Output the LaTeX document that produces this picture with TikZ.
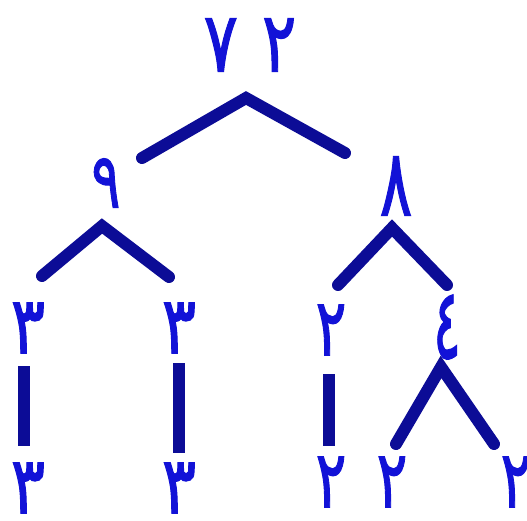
\documentclass[tikz,border=0pt]{standalone}
\usepackage{fontspec}
\newfontfamily\arabicfont[Script=Arabic,FakeBold=1.5]{DejaVu Sans}
\definecolor{linec}{RGB}{12,12,150}
\definecolor{digitc}{RGB}{18,18,215}
\newcommand\dsc[3]{\scalebox{#1}[#2]{#3}}
\begin{document}
\begin{tikzpicture}[x=1pt,y=-1pt,
  num/.style={text=digitc,font=\arabicfont\fontsize{64}{64}\selectfont,inner sep=0pt},
  br/.style={draw=linec,line width=12pt,line cap=round,line join=miter}]
\useasboundingbox (0,0) rectangle (527,521);
\fill[white] (0,0) rectangle (527,521);
% numbers
\node[num] (n72) at (250,45) {\dsc{1}{1.3}{٧\hspace{24pt}٢}};
\node[num] (n9) at (106,183) {\dsc{0.85}{1.2}{٩}};
\node[num] (n8) at (396,186) {\dsc{0.95}{1.45}{٨}};
\node[num] (a3) at (28,328) {\dsc{1}{1.25}{٣}};
\node[num] (b3) at (179,328) {\dsc{1}{1.25}{٣}};
\node[num] (c2) at (331,330) {\dsc{0.9}{1.25}{٢}};
\node[num] (d4) at (447,327) {\dsc{0.8}{1.55}{٤}};
\node[num] (e3) at (28,488) {\dsc{1}{1.25}{٣}};
\node[num] (f3) at (179,488) {\dsc{1}{1.25}{٣}};
\node[num] (g2) at (331,482) {\dsc{0.9}{1.25}{٢}};
\node[num] (h2) at (392,482) {\dsc{0.9}{1.25}{٢}};
\node[num] (i2) at (516,482) {\dsc{0.9}{1.25}{٢}};
% branch points
\coordinate (t0) at (246,98);
\coordinate (tL) at (142,158);
\coordinate (tR) at (345,153);
\coordinate (u0) at (102,226);
\coordinate (uL) at (42,276);
\coordinate (uR) at (169,277);
\coordinate (v0) at (392,228);
\coordinate (vL) at (338,285);
\coordinate (vR) at (447,285);
\coordinate (w0) at (441,367);
\coordinate (wL) at (396,444);
\coordinate (wR) at (494,444);
\coordinate (p1) at (24,366);
\coordinate (q1) at (24,446);
\coordinate (p2) at (179,363);
\coordinate (q2) at (179,453);
\coordinate (p3) at (329,374);
\coordinate (q3) at (329,446);
% connectors
\draw[br] (tL) -- (t0) -- (tR);
\draw[br] (uL) -- (u0) -- (uR);
\draw[br] (vL) -- (v0) -- (vR);
\draw[br] (wL) -- (w0) -- (wR);
\draw[br,line cap=butt] (p1) -- (q1);
\draw[br,line cap=butt] (p2) -- (q2);
\draw[br,line cap=butt] (p3) -- (q3);
\end{tikzpicture}
\end{document}
